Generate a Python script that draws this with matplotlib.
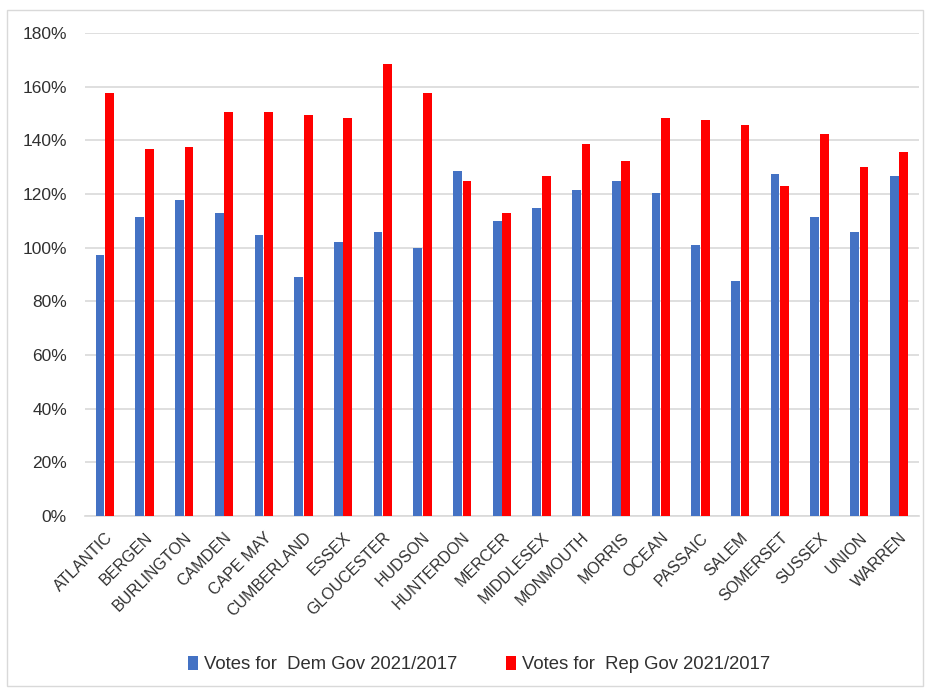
import matplotlib
matplotlib.use("Agg")
import matplotlib.pyplot as plt
import numpy as np
from matplotlib.patches import Rectangle
from matplotlib.ticker import FuncFormatter

counties = ["ATLANTIC", "BERGEN", "BURLINGTON", "CAMDEN", "CAPE MAY", "CUMBERLAND",
            "ESSEX", "GLOUCESTER", "HUDSON", "HUNTERDON", "MERCER", "MIDDLESEX",
            "MONMOUTH", "MORRIS", "OCEAN", "PASSAIC", "SALEM", "SOMERSET",
            "SUSSEX", "UNION", "WARREN"]
dem = [97.2, 111.6, 117.9, 112.8, 104.7, 89.0, 102.2, 106.0, 99.8, 128.6, 109.8,
       114.8, 121.7, 124.9, 120.5, 100.9, 87.7, 127.4, 111.6, 106.0, 126.8]
rep = [157.7, 136.9, 137.5, 150.7, 150.7, 149.4, 148.3, 168.4, 157.7, 124.9, 112.8,
       126.8, 138.8, 132.5, 148.3, 147.7, 145.7, 123.0, 142.5, 130.0, 135.6]
series_names = ["Votes for  Dem Gov 2021/2017", "Votes for  Rep Gov 2021/2017"]
yticks = [0, 20, 40, 60, 80, 100, 120, 140, 160, 180]

plt.rcParams['font.family'] = ['Liberation Sans', 'DejaVu Sans']
txt_color = "#303030"

fig = plt.figure(figsize=(9.3, 6.9), dpi=100)
ax = fig.add_axes([0.0914, 0.252, 0.8966, 0.700])

x = np.arange(len(counties))
w = 0.22
gap = 0.02
ax.bar(x - w/2 - gap/2, dem, width=w, color="#4472C4", label=series_names[0], zorder=3)
ax.bar(x + w/2 + gap/2, rep, width=w, color="#FF0000", label=series_names[1], zorder=3)

ax.set_xlim(-0.5, len(counties) - 0.5)
ax.set_ylim(0, 180)
ax.set_yticks(yticks)
ax.yaxis.set_major_formatter(FuncFormatter(lambda v, p: f"{int(v)}%"))
ax.grid(axis='y', color="#d9d9d9", linewidth=1.2, zorder=0)
ax.set_axisbelow(True)
for s in ["top", "right", "left"]:
    ax.spines[s].set_visible(False)
ax.spines["bottom"].set_color("#d9d9d9")
ax.spines["bottom"].set_linewidth(1.2)
ax.tick_params(axis='y', length=0, labelsize=12.5, colors=txt_color, pad=13)
ax.set_xticks(x)
ax.set_xticklabels(counties, rotation=45, ha='right', rotation_mode='anchor')
ax.tick_params(axis='x', length=0, labelsize=11.5, colors=txt_color, pad=10)

fig.legend(loc='lower center', bbox_to_anchor=(0.515, 0.0), ncol=2, frameon=False,
           fontsize=13.3, handlelength=0.55, handleheight=0.8, columnspacing=2.6,
           handletextpad=0.35, labelcolor=txt_color, bbox_transform=fig.transFigure,
           borderaxespad=0.5)

fig.patches.append(Rectangle((0.008, 0.006), 0.985, 0.98, transform=fig.transFigure,
                             fill=False, edgecolor="#d9d9d9", linewidth=1.0))

fig.savefig("out.png", dpi=100, facecolor="white")
